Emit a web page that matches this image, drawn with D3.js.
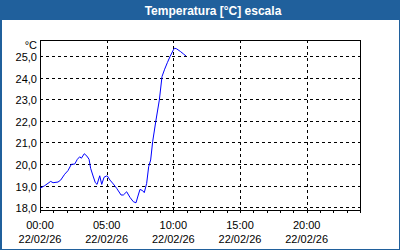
<!DOCTYPE html>
<html>
<head>
<meta charset="utf-8">
<script src="https://cdn.jsdelivr.net/npm/d3@7"></script>
<style>
body { margin: 0; background: #fff; }
svg { display: block; font-family: "Liberation Sans", Arial, sans-serif; }
</style>
</head>
<body>
<div id="chart"></div>
<script>
// data (hours since 00:00, temperature in °C)
var hours = [0.00, 0.35, 0.80, 0.98, 1.35, 1.55, 1.85, 2.10, 2.35, 2.60, 2.80, 2.98, 3.10, 3.32, 3.52, 3.68,
    3.80, 3.98, 4.15, 4.28, 4.48, 4.63, 4.80, 4.98, 5.05, 5.25, 5.50, 5.75, 6.08, 6.25, 6.50, 6.75,
    7.00, 7.20, 7.37, 7.50, 7.70, 7.82, 8.00, 8.15, 8.30, 8.45, 8.70, 8.95, 9.15, 9.35, 9.55, 9.75,
    10.00, 10.10, 10.25, 10.55, 10.75, 10.95];
var temps = [18.88, 19.00, 19.20, 19.14, 19.17, 19.26, 19.53, 19.70, 19.99, 20.00, 20.22, 20.34, 20.27, 20.48, 20.37, 20.22,
    19.80, 19.45, 19.14, 19.06, 19.46, 19.06, 19.39, 19.45, 19.45, 19.26, 19.08, 18.88, 18.57, 18.57, 18.72, 18.46,
    18.26, 18.21, 18.57, 18.83, 18.77, 18.68, 19.11, 19.88, 20.19, 21.04, 22.04, 22.96, 24.05, 24.39, 24.69, 24.97,
    25.28, 25.36, 25.33, 25.20, 25.10, 25.00];
var yTicks = [18, 19, 20, 21, 22, 23, 24, 25];
var xLabelHours = [0, 5, 10, 15, 20];
var dayLabel = "22/02/26";
var title = "Temperatura [°C] escala";
var unit = "°C";

var W = 400, H = 250;
var margin = {top: 40, right: 40, bottom: 40.5, left: 40};
var day0 = new Date(2026, 1, 22, 0, 0);
function toDate(h) { return new Date(day0.getTime() + h * 3600000); }

var svg = d3.select("#chart").append("svg")
    .attr("width", W)
    .attr("height", H);

// frame + title bar
svg.append("rect").attr("x", 0).attr("y", 0).attr("width", W).attr("height", H).attr("fill", "#20609c");
svg.append("rect").attr("x", 2).attr("y", 20).attr("width", W - 3).attr("height", H - 21).attr("fill", "#ffffff");
svg.append("text")
    .attr("x", 213).attr("y", 14.5)
    .attr("text-anchor", "middle")
    .attr("fill", "#ffffff")
    .attr("font-size", 12).attr("font-weight", "bold")
    .text(title);

var x = d3.scaleTime()
    .domain([day0, toDate(24)])
    .range([margin.left, W - margin.right]);
var y = d3.scaleLinear()
    .domain([17.9, 25.74])
    .range([H - margin.bottom, margin.top]);

// grid
var grid = svg.append("g").attr("shape-rendering", "crispEdges");
grid.selectAll(".hg").data(yTicks).enter().append("line")
    .attr("x1", margin.left).attr("x2", W - margin.right)
    .attr("y1", function(d) { return Math.round(y(d)) + 0.5; })
    .attr("y2", function(d) { return Math.round(y(d)) + 0.5; })
    .attr("stroke", "#000").attr("stroke-dasharray", "3,3");
grid.selectAll(".vg").data(xLabelHours.slice(1)).enter().append("line")
    .attr("x1", function(d) { return Math.round(x(toDate(d))) + 0.5; })
    .attr("x2", function(d) { return Math.round(x(toDate(d))) + 0.5; })
    .attr("y1", margin.top).attr("y2", H - margin.bottom)
    .attr("stroke", "#000").attr("stroke-dasharray", "3,3");

// plot border
svg.append("rect")
    .attr("x", margin.left + 0.5).attr("y", margin.top + 0.5)
    .attr("width", W - margin.left - margin.right)
    .attr("height", Math.round(H - margin.bottom) - margin.top)
    .attr("fill", "none").attr("stroke", "#000")
    .attr("shape-rendering", "crispEdges");

// hourly ticks under x axis
var xAxis = d3.axisBottom(x)
    .ticks(d3.timeHour.every(1))
    .tickSize(3)
    .tickFormat("");
svg.append("g")
    .attr("transform", "translate(0," + Math.round(H - margin.bottom) + ")")
    .attr("shape-rendering", "crispEdges")
    .call(xAxis)
    .call(function(g) { g.select(".domain").remove(); });

// x labels, two lines
var fmt = d3.timeFormat("%H:%M");
var xl = svg.append("g").attr("font-size", 11).attr("fill", "#000").attr("text-anchor", "middle");
xLabelHours.forEach(function(h) {
    var t = xl.append("text").attr("x", x(toDate(h)));
    t.append("tspan").attr("x", x(toDate(h))).attr("y", 229).text(fmt(toDate(h)));
    t.append("tspan").attr("x", x(toDate(h))).attr("y", 243).text(dayLabel);
});

// y labels
var ylab = svg.append("g").attr("font-size", 11).attr("fill", "#000").attr("text-anchor", "end");
ylab.selectAll("text").data(yTicks).enter().append("text")
    .attr("x", 37)
    .attr("y", function(d) { return y(d) + 5; })
    .text(function(d) { return d.toFixed(1).replace(".", ","); });
ylab.append("text").attr("x", 37).attr("y", 49).text(unit);

// temperature line
var line = d3.line()
    .x(function(d, i) { return x(toDate(hours[i])); })
    .y(function(d) { return y(d); });
svg.append("path")
    .datum(temps)
    .attr("d", line)
    .attr("fill", "none")
    .attr("stroke", "#0000ff")
    .attr("stroke-width", 1);
</script>
</body>
</html>
